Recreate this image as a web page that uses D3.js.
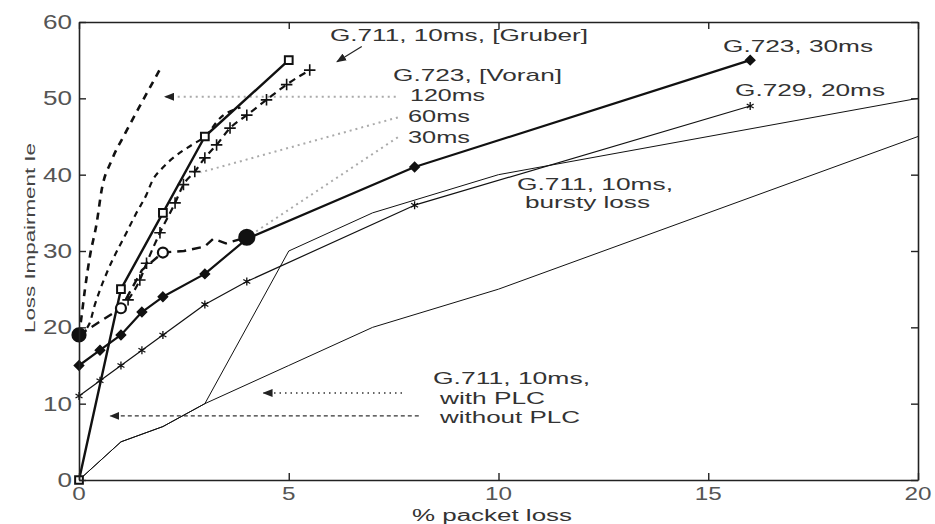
<!DOCTYPE html>
<html>
<head>
<meta charset="utf-8">
<script src="https://cdn.jsdelivr.net/npm/d3@7"></script>
<style>
body { margin: 0; background: #fff; }
text { font-family: "Liberation Sans", Arial, sans-serif; fill: #333; }
</style>
</head>
<body>
<div class="chart"></div>
<script>
// [% packet loss, Ie]
const g711NoPlc = [[0, 0], [1, 25], [2, 35], [3, 45], [5, 55]]
const g711Plc = [[0, 0], [1, 5], [2, 7], [3, 10], [5, 15], [7, 20], [10, 25], [20, 45]]
const g711Bursty = [[0, 0], [1, 5], [2, 7], [3, 10], [5, 30], [7, 35], [10, 40], [20, 50]]
const g723 = [[0, 15], [0.5, 17], [1, 19], [1.5, 22], [2, 24], [3, 27], [4, 31.6], [8, 41], [16, 55]]
const g729 = [[0, 11], [0.5, 13], [1, 15], [1.5, 17], [2, 19], [3, 23], [4, 26], [8, 36], [16, 49]]
const gruber = [[1.17, 23.6], [1.45, 26.2], [1.61, 28.4], [1.93, 32.4], [2.29, 36.3], [2.49, 38.7], [2.76, 40.4],
    [3, 42.2], [3.28, 43.9], [3.6, 46.1], [4, 47.8], [4.47, 49.8], [4.95, 51.8], [5.5, 53.7]]
const voran120 = [[0, 19], [0.06, 21.4], [0.14, 24.9], [0.26, 29.3], [0.42, 33.6], [0.54, 38], [0.78, 41.9],
    [1.1, 45.4], [1.53, 49.8], [1.93, 53.8]]
const voran60 = [[0, 19], [0.25, 20.5], [0.38, 23], [0.5, 24.9], [0.69, 27.5], [1.14, 32.5], [1.37, 35],
    [1.61, 37.4], [1.74, 39.1], [2.01, 41], [2.29, 42.4], [2.69, 43.9], [3, 45], [3.4, 47.6], [3.85, 48.8]]
const voran30 = [[0, 19], [1, 22.5], [1.5, 27.5], [2, 29.8], [2.5, 30], [3, 30.6], [3.2, 31.6], [3.5, 31], [4, 31.8]]
const voran30Circles = [[0, 19], [1, 22.5], [2, 29.8], [4, 31.8]]

const xTicks = [0, 5, 10, 15, 20]
const yTicks = [0, 10, 20, 30, 40, 50, 60]

// Pointer lines from the labels, [x1, y1, x2, y2] in data units
const pointers = [
    {p: [6.74, 56.8, 6.15, 54.8], kind: "solid", arrow: true},
    {p: [7.55, 50.2, 2.05, 50.2], kind: "grey", arrow: true},
    {p: [7.6, 47.5, 2.9, 40.3], kind: "grey", arrow: false},
    {p: [7.6, 44.9, 4.15, 32.3], kind: "grey", arrow: false},
    {p: [7.7, 11.4, 4.4, 11.4], kind: "dot", arrow: true},
    {p: [8.1, 8.4, 0.75, 8.4], kind: "dash", arrow: true}
]

// Label text, left x / baseline y in pixels, stretched width, font size
const labels = [
    ["G.711, 10ms, [Gruber]", 330, 41, 258, 17],
    ["G.723, [Voran]", 393, 81, 169, 17],
    ["120ms", 410, 101, 75, 17],
    ["60ms", 408, 122, 62, 17],
    ["30ms", 408, 143, 62, 17],
    ["G.723, 30ms", 723, 52, 150, 17],
    ["G.729, 20ms", 735, 96, 150, 17],
    ["G.711, 10ms,", 517, 190, 156, 16],
    ["bursty loss", 525, 208, 125, 16],
    ["G.711, 10ms,", 433, 384, 157, 17],
    ["with PLC", 440, 404, 105, 16],
    ["without PLC", 440, 423, 140, 16]
]

const margin = ({top: 22, right: 17, bottom: 44, left: 79})
const width = 935 - margin.left - margin.right
const height = 524 - margin.top - margin.bottom

const xScale = d3.scaleLinear().domain([0, 20]).range([0, width])
const yScale = d3.scaleLinear().domain([0, 60]).range([height, 0])

const root = d3.select('.chart').append('svg')
    .attr("width", 935)
    .attr("height", 524)

const defs = root.append("defs")
defs.append("marker")
    .attr("id", "head")
    .attr("markerUnits", "userSpaceOnUse")
    .attr("markerWidth", 10).attr("markerHeight", 8)
    .attr("refX", 9).attr("refY", 4)
    .attr("orient", "auto")
    .append("path")
    .attr("d", "M0,0 L10,4 L0,8 Z")
    .attr("fill", "#222")

const svg = root.append("g")
    .attr("transform", `translate(${margin.left},${margin.top})`)

// Pointers go underneath the curves
const pStyle = {
    solid: {stroke: "#222", dash: null, w: 1.2},
    grey: {stroke: "#aaa", dash: "2,4", w: 2},
    dot: {stroke: "#333", dash: "1.5,4", w: 1.5},
    dash: {stroke: "#333", dash: "4,3", w: 1.3}
}
svg.selectAll(".pointer")
    .data(pointers)
    .enter()
    .append("line")
    .attr("class", "pointer")
    .attr("x1", d => xScale(d.p[0]))
    .attr("y1", d => yScale(d.p[1]))
    .attr("x2", d => xScale(d.p[2]))
    .attr("y2", d => yScale(d.p[3]))
    .attr("stroke", d => pStyle[d.kind].stroke)
    .attr("stroke-width", d => pStyle[d.kind].w)
    .attr("stroke-dasharray", d => pStyle[d.kind].dash)
    .attr("marker-end", d => d.arrow ? "url(#head)" : null)

const line = d3.line().x(d => xScale(d[0])).y(d => yScale(d[1]))
const smooth = d3.line().x(d => xScale(d[0])).y(d => yScale(d[1])).curve(d3.curveMonotoneX)

const curves = [
    {data: g711Plc, gen: line, w: 1, dash: null},
    {data: g711Bursty, gen: line, w: 1, dash: null},
    {data: g729, gen: line, w: 1.2, dash: null},
    {data: g723, gen: line, w: 2.2, dash: null},
    {data: g711NoPlc, gen: line, w: 2.4, dash: null},
    {data: voran120, gen: smooth, w: 2.6, dash: "7,6"},
    {data: voran60, gen: smooth, w: 2.2, dash: "6,5"},
    {data: gruber, gen: smooth, w: 2.2, dash: "7,5"},
    {data: voran30, gen: line, w: 2.4, dash: "9,6"}
]

svg.selectAll(".curve")
    .data(curves)
    .enter()
    .append("path")
    .attr("class", "curve")
    .attr("d", d => d.gen(d.data))
    .attr("fill", "none")
    .attr("stroke", "#111")
    .attr("stroke-width", d => d.w)
    .attr("stroke-dasharray", d => d.dash)
    .attr("stroke-linejoin", "round")

// Point markers
const drawSymbols = (data, type, size, fill, sw) => {
    svg.append("g").selectAll("path")
        .data(data)
        .enter()
        .append("path")
        .attr("transform", d => `translate(${xScale(d[0])},${yScale(d[1])})`)
        .attr("d", d3.symbol(type, size))
        .attr("fill", fill)
        .attr("stroke", "#111")
        .attr("stroke-width", sw)
}
drawSymbols(g729, d3.symbolAsterisk, 45, "none", 1.3)
drawSymbols(g723, d3.symbolDiamond2, 55, "#111", 1.5)
drawSymbols(g711NoPlc, d3.symbolSquare, 60, "#fff", 2)
drawSymbols(gruber, d3.symbolPlus, 45, "none", 1.6)

svg.append("g").selectAll("circle")
    .data(voran30Circles)
    .enter()
    .append("circle")
    .attr("cx", d => xScale(d[0]))
    .attr("cy", d => yScale(d[1]))
    .attr("r", (d, i) => i === voran30Circles.length - 1 ? 7.5 : (i === 0 ? 6.5 : 5))
    .attr("fill", (d, i) => (i === 0 || i === voran30Circles.length - 1) ? "#111" : "#fff")
    .attr("stroke", "#111")
    .attr("stroke-width", 2.2)

// Axes: boxed frame with inward ticks
const frame = [
    {axis: d3.axisBottom(xScale).tickValues(xTicks), at: `translate(0,${height})`},
    {axis: d3.axisTop(xScale).tickValues(xTicks), at: "translate(0,0)"},
    {axis: d3.axisLeft(yScale).tickValues(yTicks), at: "translate(0,0)"},
    {axis: d3.axisRight(yScale).tickValues(yTicks), at: `translate(${width},0)`}
]
frame.forEach(f => {
    const g = svg.append("g")
        .attr("class", "axis")
        .attr("transform", f.at)
        .call(f.axis.tickSizeInner(-7).tickSizeOuter(0).tickFormat(""))
    g.select(".domain").attr("stroke", "#222").attr("stroke-width", 1.6)
    g.selectAll(".tick line").attr("stroke", "#222").attr("stroke-width", 1.4)
})

// Tick labels
svg.selectAll(".xlab")
    .data(xTicks)
    .enter()
    .append("text")
    .attr("x", d => xScale(d))
    .attr("y", height + 20)
    .attr("text-anchor", "middle")
    .attr("font-size", 19)
    .attr("textLength", d => String(d).length * 13.5)
    .attr("lengthAdjust", "spacingAndGlyphs")
    .style("fill", "#555")
    .text(d => d)

svg.selectAll(".ylab")
    .data(yTicks)
    .enter()
    .append("text")
    .attr("x", -7)
    .attr("y", d => yScale(d) + 7)
    .attr("text-anchor", "end")
    .attr("font-size", 20)
    .attr("textLength", d => String(d).length * 14.5)
    .attr("lengthAdjust", "spacingAndGlyphs")
    .style("fill", "#555")
    .text(d => d)

// Axis titles
root.append("text")
    .attr("x", 492)
    .attr("y", 521)
    .attr("text-anchor", "middle")
    .attr("font-size", 16)
    .attr("textLength", 160)
    .attr("lengthAdjust", "spacingAndGlyphs")
    .text("% packet loss")

root.append("text")
    .attr("transform", "translate(35,238) rotate(-90)")
    .attr("text-anchor", "middle")
    .attr("font-size", 15)
    .attr("textLength", 190)
    .attr("lengthAdjust", "spacingAndGlyphs")
    .style("fill", "#444")
    .text("Loss Impairment Ie")

// Curve labels
root.selectAll(".label")
    .data(labels)
    .enter()
    .append("text")
    .attr("class", "label")
    .attr("x", d => d[1])
    .attr("y", d => d[2])
    .attr("font-size", d => d[4])
    .attr("textLength", d => d[3])
    .attr("lengthAdjust", "spacingAndGlyphs")
    .text(d => d[0])
</script>
</body>
</html>
